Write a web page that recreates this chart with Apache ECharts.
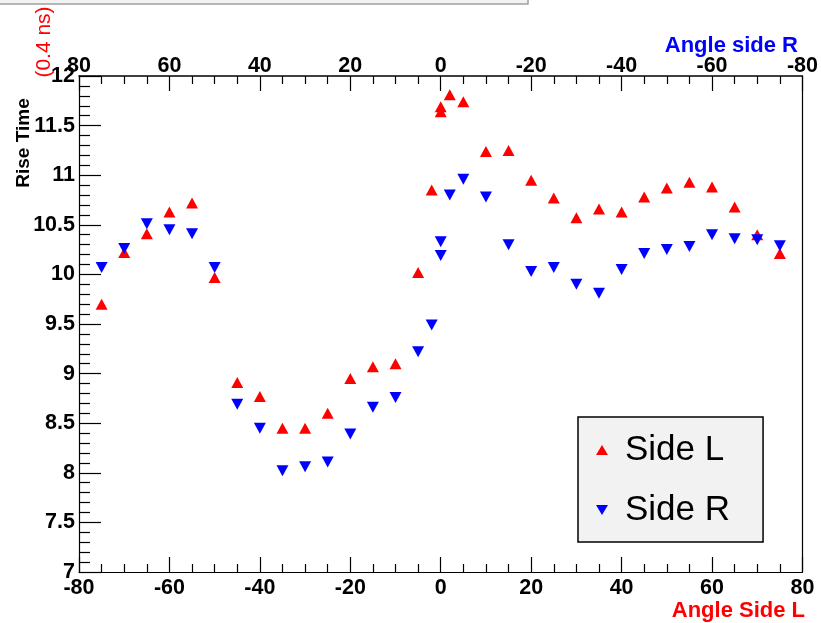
<!DOCTYPE html>
<html>
<head>
<meta charset="utf-8">
<script src="https://cdn.jsdelivr.net/npm/echarts@6/dist/echarts.min.js"></script>
<style>
  html, body { margin: 0; padding: 0; background: #fff; }
  #chart { width: 821px; height: 623px; }
</style>
</head>
<body>
<div id="chart"></div>
<script>
// Rise time versus angle, measured from both sides
const angles = [-75, -70, -65, -60, -55, -50, -45, -40, -35, -30, -25, -20, -15, -10, -5, -2, 0, 0, 2, 5,
                10, 15, 20, 25, 30, 35, 40, 45, 50, 55, 60, 65, 70, 75];
const sideL = [9.70, 10.22, 10.41, 10.63, 10.72, 9.97, 8.91, 8.77, 8.45, 8.45, 8.60, 8.95, 9.07, 9.10, 10.02, 10.85, 11.69, 11.64, 11.81, 11.74,
               11.24, 11.25, 10.95, 10.77, 10.57, 10.66, 10.63, 10.78, 10.87, 10.93, 10.88, 10.68, 10.40, 10.21];
const sideR = [10.07, 10.26, 10.51, 10.45, 10.41, 10.07, 8.69, 8.45, 8.02, 8.06, 8.11, 8.39, 8.66, 8.76, 9.22, 9.49, 10.33, 10.19, 10.80, 10.96,
               10.78, 10.30, 10.03, 10.07, 9.90, 9.81, 10.05, 10.21, 10.25, 10.28, 10.40, 10.36, 10.35, 10.29];
const seriesNames = ['Side L', 'Side R'];
const xRange = [-80, 80];
const yRange = [7, 12];

const FONT = '"Liberation Sans", Arial, Helvetica, sans-serif';
const labelStyle = { fontFamily: FONT, fontWeight: 'bold', fontSize: 21.5, color: '#000' };
const axisLineStyle = { show: true, onZero: false, lineStyle: { color: '#000', width: 1.2 } };

const chart = echarts.init(document.getElementById('chart'), null, { renderer: 'canvas' });

chart.setOption({
  backgroundColor: '#fff',
  animation: false,
  grid: { left: 79, right: 15, top: 76, bottom: 51, containLabel: false },
  xAxis: [
    {
      type: 'value', position: 'bottom', min: xRange[0], max: xRange[1], interval: 20,
      axisLine: axisLineStyle,
      axisTick: { show: true, inside: true, length: 15, lineStyle: { color: '#000', width: 1.2 } },
      minorTick: { show: true, splitNumber: 4, length: 8, lineStyle: { color: '#000', width: 1.2 } },
      axisLabel: Object.assign({ margin: 5 }, labelStyle),
      splitLine: { show: false }
    },
    {
      type: 'value', position: 'top', inverse: true, min: xRange[0], max: xRange[1], interval: 20,
      axisLine: { show: true, onZero: false, lineStyle: { color: '#000', width: 1.5 } },
      axisTick: { show: true, inside: true, length: 15, lineStyle: { color: '#000', width: 1.2 } },
      minorTick: { show: true, splitNumber: 4, length: 8, lineStyle: { color: '#000', width: 1.2 } },
      axisLabel: Object.assign({ margin: -1 }, labelStyle),
      splitLine: { show: false }
    }
  ],
  yAxis: [
    {
      type: 'value', position: 'left', min: yRange[0], max: yRange[1], interval: 0.5,
      axisLine: axisLineStyle,
      axisTick: { show: true, inside: true, length: 22, lineStyle: { color: '#000', width: 1.2 } },
      minorTick: { show: true, splitNumber: 5, length: 11, lineStyle: { color: '#000', width: 1.2 } },
      axisLabel: Object.assign({ margin: 4 }, labelStyle),
      splitLine: { show: false }
    },
    {
      type: 'value', position: 'right', min: yRange[0], max: yRange[1],
      axisLine: axisLineStyle,
      axisTick: { show: false }, axisLabel: { show: false },
      splitLine: { show: false }
    }
  ],
  legend: {
    orient: 'vertical', left: 578, top: 417,
    backgroundColor: '#f2f2f2', borderColor: '#000', borderWidth: 1.5, borderRadius: 0,
    padding: [13, 33, 12, 18], itemGap: 20, itemWidth: 12, itemHeight: 10,
    textStyle: { fontFamily: FONT, fontSize: 35, color: '#000', lineHeight: 30, padding: [10, 0, 0, 12] },
    data: [
      { name: seriesNames[0], icon: 'triangle' },
      { name: seriesNames[1], icon: 'path://M0,0L12,0L6,10Z' }
    ]
  },
  graphic: [
    { type: 'rect', shape: { x: -1, y: -6, width: 529, height: 10 },
      style: { fill: '#f2f2f2', stroke: '#a0a0a0', lineWidth: 1.5 } },
    { type: 'text', x: 24, y: 143, rotation: Math.PI / 2,
      style: { text: 'Rise Time', font: 'bold 19px ' + FONT, fill: '#000', align: 'center', verticalAlign: 'middle' } },
    { type: 'text', x: 44, y: 42, rotation: Math.PI / 2,
      style: { text: '(0.4 ns)', font: '21px ' + FONT, fill: '#ff0000', align: 'center', verticalAlign: 'middle' } },
    { type: 'text', x: 805, y: 611,
      style: { text: 'Angle Side L', font: 'bold 22px ' + FONT, fill: '#ff0000', align: 'right', verticalAlign: 'middle' } },
    { type: 'text', x: 798, y: 46,
      style: { text: 'Angle side R', font: 'bold 22px ' + FONT, fill: '#0000ff', align: 'right', verticalAlign: 'middle' } }
  ],
  series: [
    {
      name: seriesNames[0], type: 'scatter', xAxisIndex: 0, yAxisIndex: 0,
      symbol: 'triangle', symbolSize: [12, 11],
      itemStyle: { color: '#ff0000', opacity: 1 },
      data: angles.map((a, i) => [a, sideL[i]])
    },
    {
      name: seriesNames[1], type: 'scatter', xAxisIndex: 0, yAxisIndex: 0,
      symbol: 'triangle', symbolRotate: 180, symbolSize: [12, 11],
      itemStyle: { color: '#0000ff', opacity: 1 },
      data: angles.map((a, i) => [a, sideR[i]])
    }
  ]
});
</script>
</body>
</html>
